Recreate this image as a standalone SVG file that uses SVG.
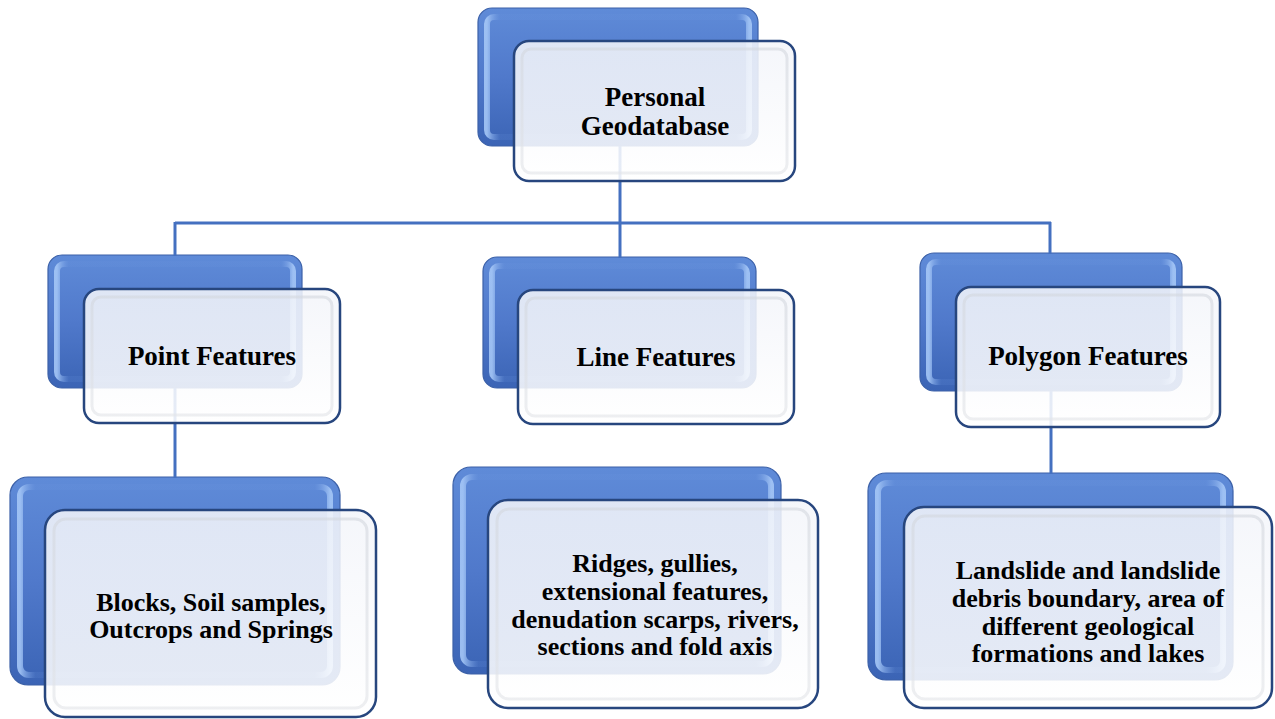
<svg xmlns="http://www.w3.org/2000/svg" width="1275" height="719" viewBox="0 0 1275 719">
<defs>
<linearGradient id="blueG" x1="0" y1="0" x2="0" y2="1">
<stop offset="0" stop-color="#5f8bd8"/>
<stop offset="0.5" stop-color="#5079cb"/>
<stop offset="1" stop-color="#3b64b5"/>
</linearGradient>
<linearGradient id="blueSide" x1="0" y1="0" x2="1" y2="0">
<stop offset="0" stop-color="#a4c6f6" stop-opacity="0.9"/>
<stop offset="0.05" stop-color="#6e98e0" stop-opacity="0.15"/>
<stop offset="0.95" stop-color="#6e98e0" stop-opacity="0.15"/>
<stop offset="1" stop-color="#a4c6f6" stop-opacity="0.9"/>
</linearGradient>
<linearGradient id="whiteG" x1="0" y1="0" x2="0" y2="1">
<stop offset="0" stop-color="#f3f5fa"/>
<stop offset="1" stop-color="#ffffff"/>
</linearGradient>
<linearGradient id="bevel" x1="0" y1="0" x2="0" y2="1">
<stop offset="0" stop-color="#d3d7de"/>
<stop offset="1" stop-color="#e2e4e8"/>
</linearGradient>
</defs>
<style>
.back{fill:url(#blueG);stroke:#3c61a8;stroke-width:1.2}
.backhl{fill:none;stroke:url(#blueSide);stroke-width:6}
.front{fill:url(#whiteG);fill-opacity:0.87;stroke:#27467e;stroke-width:2.5}
.frontin{fill:none;stroke:url(#bevel);stroke-width:3;stroke-opacity:0.6}
.conn{stroke:#4470c0;stroke-width:3;fill:none}
text{font-family:"Liberation Serif","Times New Roman",serif;font-weight:bold;fill:#000;text-anchor:middle}
.t1{font-size:27px}
.t2{font-size:26px}
</style>

<g id="backs">
<g id="root-back"><rect class="back" x="478" y="8" width="280" height="138" rx="14"/><rect class="backhl" x="487" y="17" width="262" height="120" rx="7"/></g>
<g id="point-back"><rect class="back" x="48" y="255" width="254" height="133" rx="14"/><rect class="backhl" x="57" y="264" width="236" height="115" rx="7"/></g>
<g id="line-back"><rect class="back" x="483" y="257" width="273" height="131" rx="14"/><rect class="backhl" x="492" y="266" width="255" height="113" rx="7"/></g>
<g id="poly-back"><rect class="back" x="920" y="253" width="262" height="138" rx="14"/><rect class="backhl" x="929" y="262" width="244" height="120" rx="7"/></g>
<g id="pointd-back"><rect class="back" x="10" y="477" width="330" height="208" rx="18"/><rect class="backhl" x="20" y="487" width="310" height="188" rx="9"/></g>
<g id="lined-back"><rect class="back" x="453" y="467" width="328" height="207" rx="18"/><rect class="backhl" x="463" y="477" width="308" height="187" rx="9"/></g>
<g id="polyd-back"><rect class="back" x="868" y="473" width="365" height="207" rx="18"/><rect class="backhl" x="878" y="483" width="345" height="187" rx="9"/></g>
</g>

<g id="connectors">
<path class="conn" d="M620 146 V223"/>
<path class="conn" d="M175 223 H1051"/>
<path class="conn" d="M175 222 V256"/>
<path class="conn" d="M620 222 V258"/>
<path class="conn" d="M1050 222 V254"/>
<path class="conn" d="M175 388 V478"/>
<path class="conn" d="M1051 391 V474"/>
</g>

<g id="root">
<rect class="front" x="514" y="41" width="281" height="140" rx="15"/>
<rect class="frontin" x="522" y="49" width="265" height="124" rx="9"/>
<text class="t1" x="655" y="106">Personal</text>
<text class="t1" x="655" y="135">Geodatabase</text>
</g>
<g id="point">
<rect class="front" x="84" y="289" width="256" height="134" rx="15"/>
<rect class="frontin" x="92" y="297" width="240" height="118" rx="9"/>
<text class="t1" x="212" y="365">Point Features</text>
</g>
<g id="line">
<rect class="front" x="518" y="290" width="276" height="134" rx="15"/>
<rect class="frontin" x="526" y="298" width="260" height="118" rx="9"/>
<text class="t1" x="656" y="366">Line Features</text>
</g>
<g id="polygon">
<rect class="front" x="956" y="287" width="264" height="140" rx="15"/>
<rect class="frontin" x="964" y="295" width="248" height="124" rx="9"/>
<text class="t1" x="1088" y="365">Polygon Features</text>
</g>
<g id="point-detail">
<rect class="front" x="45" y="510" width="331" height="207" rx="20"/>
<rect class="frontin" x="54" y="519" width="313" height="189" rx="12"/>
<text class="t2" x="211" y="611">Blocks, Soil samples,</text>
<text class="t2" x="211" y="638">Outcrops and Springs</text>
</g>
<g id="line-detail">
<rect class="front" x="488" y="500" width="330" height="208" rx="20"/>
<rect class="frontin" x="497" y="509" width="312" height="190" rx="12"/>
<text class="t2" x="655" y="572">Ridges, gullies,</text>
<text class="t2" x="655" y="600">extensional features,</text>
<text class="t2" x="655" y="628">denudation scarps, rivers,</text>
<text class="t2" x="655" y="655">sections and fold axis</text>
</g>
<g id="polygon-detail">
<rect class="front" x="904" y="507" width="368" height="201" rx="20"/>
<rect class="frontin" x="913" y="516" width="350" height="183" rx="12"/>
<text class="t2" x="1088" y="579">Landslide and landslide</text>
<text class="t2" x="1088" y="607">debris boundary, area of</text>
<text class="t2" x="1088" y="635">different geological</text>
<text class="t2" x="1088" y="662">formations and lakes</text>
</g>
</svg>
